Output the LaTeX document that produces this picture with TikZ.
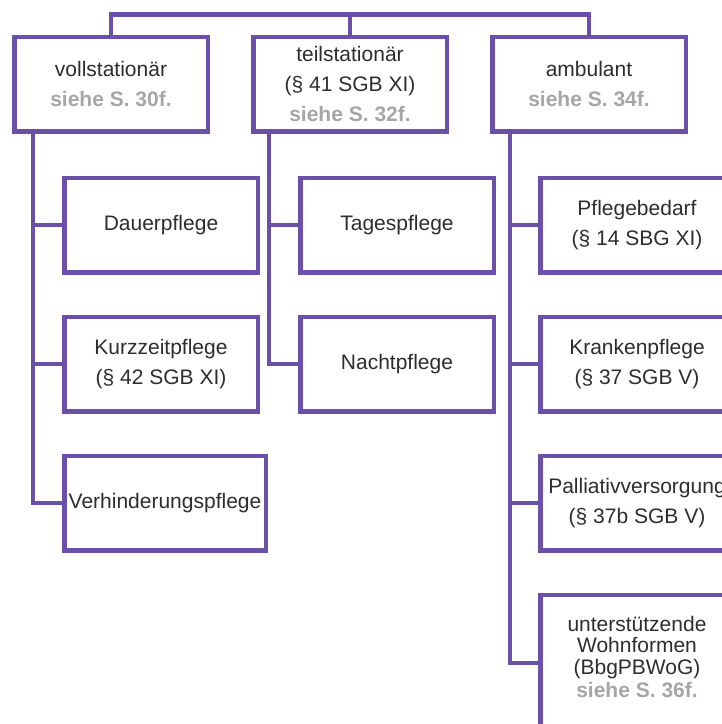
\documentclass[tikz,border=0pt]{standalone}
\usepackage{fontspec}
\setmainfont{Liberation Sans}
\usetikzlibrary{positioning}
\definecolor{pflila}{RGB}{106,80,168}
\definecolor{pftext}{RGB}{45,45,45}
\definecolor{pfgrau}{RGB}{166,166,166}
\newcommand{\siehe}[1]{{\color{pfgrau}\bfseries siehe S.~#1}}
\tikzset{
  pf_box/.style = {rectangle, draw=pflila, line width=4.5pt, fill=white,
    align=center, text=pftext, font=\fontsize{21}{30}\selectfont,
    minimum width=193.5pt, minimum height=94.5pt, inner sep=2pt},
  pf_top/.style = {pf_box},
  pf_sub/.style = {pf_box},
  pf_link/.style = {draw=pflila, line width=4.5pt}
}

\begin{document}
\begin{tikzpicture}
\useasboundingbox (0,0) rectangle (722pt,-724pt);
\clip (0,0) rectangle (722pt,-724pt);
% Versorgungsformen
\node [pf_top] (voll) at (111pt,-84pt) {vollstationär\\\siehe{30f.}};
\node [pf_top, right=41pt of voll] (teil) {teilstationär\\(§ 41 SGB XI)\\\siehe{32f.}};
\node [pf_top, right=41pt of teil] (amb) {ambulant\\\siehe{34f.}};
% vollstationaer
\node [pf_sub, anchor=north west] (dauer) at ([xshift=50pt,yshift=-42pt]voll.south west) {Dauerpflege};
\node [pf_sub, below=40pt of dauer] (kurz) {Kurzzeitpflege\\(§ 42 SGB XI)};
\node [pf_sub, below=40pt of kurz.south west, anchor=north west,
       minimum width=201.5pt] (verh) {Verhinderungspflege};
% teilstationaer
\node [pf_sub, anchor=north west] (tag) at ([xshift=47pt,yshift=-42pt]teil.south west) {Tagespflege};
\node [pf_sub, below=40pt of tag] (nacht) {Nachtpflege};
% ambulant
\node [pf_sub, anchor=north west] (bedarf) at ([xshift=48pt,yshift=-42pt]amb.south west) {Pflegebedarf\\(§ 14 SBG XI)};
\node [pf_sub, below=40pt of bedarf] (kranken) {Krankenpflege\\(§ 37 SGB V)};
\node [pf_sub, below=40pt of kranken] (palliativ) {Palliativversorgung\\(§ 37b SGB V)};
\node [pf_sub, below=40pt of palliativ, minimum height=136pt,
       font=\fontsize{21}{21.5}\selectfont, text depth=12pt] (wohn)
      {unterstützende\\Wohnformen\\(BbgPBWoG)\\[2pt]\siehe{36f.}};

% Verbindungen
\draw [pf_link] (voll.north) -- ++(0,20pt) -| (amb.north);
\draw [pf_link] (teil.north) -- ++(0,20pt);
\foreach \kind in {dauer,kurz,verh}
  \draw [pf_link] ([xshift=21pt]voll.south west) |- (\kind.west);
\foreach \kind in {tag,nacht}
  \draw [pf_link] ([xshift=18pt]teil.south west) |- (\kind.west);
\foreach \kind in {bedarf,kranken,palliativ,wohn}
  \draw [pf_link] ([xshift=20pt]amb.south west) |- (\kind.west);
\end{tikzpicture}
\end{document}
